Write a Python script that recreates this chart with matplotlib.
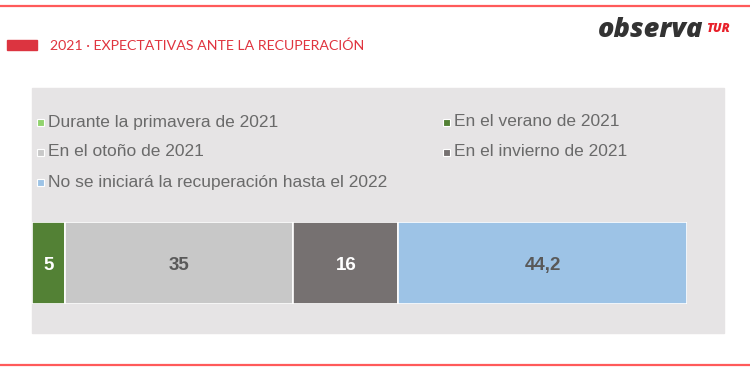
import matplotlib
matplotlib.use("Agg")
import matplotlib.pyplot as plt
from matplotlib.patches import Rectangle

categories = ["Durante la primavera de 2021", "En el verano de 2021", "En el otoño de 2021",
              "En el invierno de 2021", "No se iniciará la recuperación hasta el 2022"]
values = [0, 5, 35, 16, 44.2]
value_labels = ["0", "5", "35", "16", "44,2"]
colors = ["#92d36e", "#538135", "#c8c8c8", "#767171", "#9dc3e6"]
label_colors = ["white", "white", "#595959", "white", "#595959"]
title = "2021 · EXPECTATIVAS ANTE LA RECUPERACIÓN"

W, H = 750, 375
fig = plt.figure(figsize=(7.5, 3.75), dpi=100)
fig.patch.set_facecolor("white")

# background axes in pixel coordinates
bg = fig.add_axes([0, 0, 1, 1])
bg.set_xlim(0, W)
bg.set_ylim(H, 0)
bg.axis("off")

bg.plot([0, W], [6, 6], color="#ff5a5a", lw=1.6)
bg.plot([0, W], [365, 365], color="#ff5a5a", lw=1.6)
bg.add_patch(Rectangle((7, 40), 30, 10, color="#dc3440"))
bg.text(50, 45.5, title, color="#e0343f", fontsize=10.15, va="center", ha="left",
        family="Lato")
bg.text(703, 37, "observa", color="#333333", fontsize=19.5, fontweight="heavy",
        fontstyle="italic", ha="right", va="baseline", family="Open Sans")
bg.text(706, 32, "TUR", color="#e8202a", fontsize=9, fontweight="heavy",
        fontstyle="italic", ha="left", va="baseline", family="Open Sans")

# gray panel
bg.add_patch(Rectangle((32, 88), 692, 245, color="#e6e4e5", zorder=0))

# legend (row-wise, two columns)
pos = [(40, 122), (446, 122), (40, 152), (446, 152), (40, 182)]
for (x, y), lab, c in zip(pos, categories, colors):
    bg.add_patch(Rectangle((x - 3.5, y - 3.5), 7, 7, facecolor=c, edgecolor="white", lw=0.8, zorder=3))
    bg.text(x + 8, y, lab, color="#6a6a6a", fontsize=12.5, va="center", ha="left",
            family="Liberation Sans")

# stacked bar
ax = fig.add_axes([32 / W, 1 - 304 / H, (687 - 32) / W, (304 - 222) / H])
ax.set_xlim(0, sum(values))
ax.set_ylim(-0.5, 0.5)
ax.axis("off")
left = 0
for v, lab, c, lc in zip(values, value_labels, colors, label_colors):
    if v > 0:
        ax.barh(0, v, left=left, height=1, color=c, edgecolor="white", lw=1.2)
        ax.text(left + v / 2, -0.03, lab, color=lc, fontsize=13.5, fontweight="bold",
                ha="center", va="center", family="Liberation Sans")
    left += v

fig.savefig("out.png", dpi=100, facecolor="white")
